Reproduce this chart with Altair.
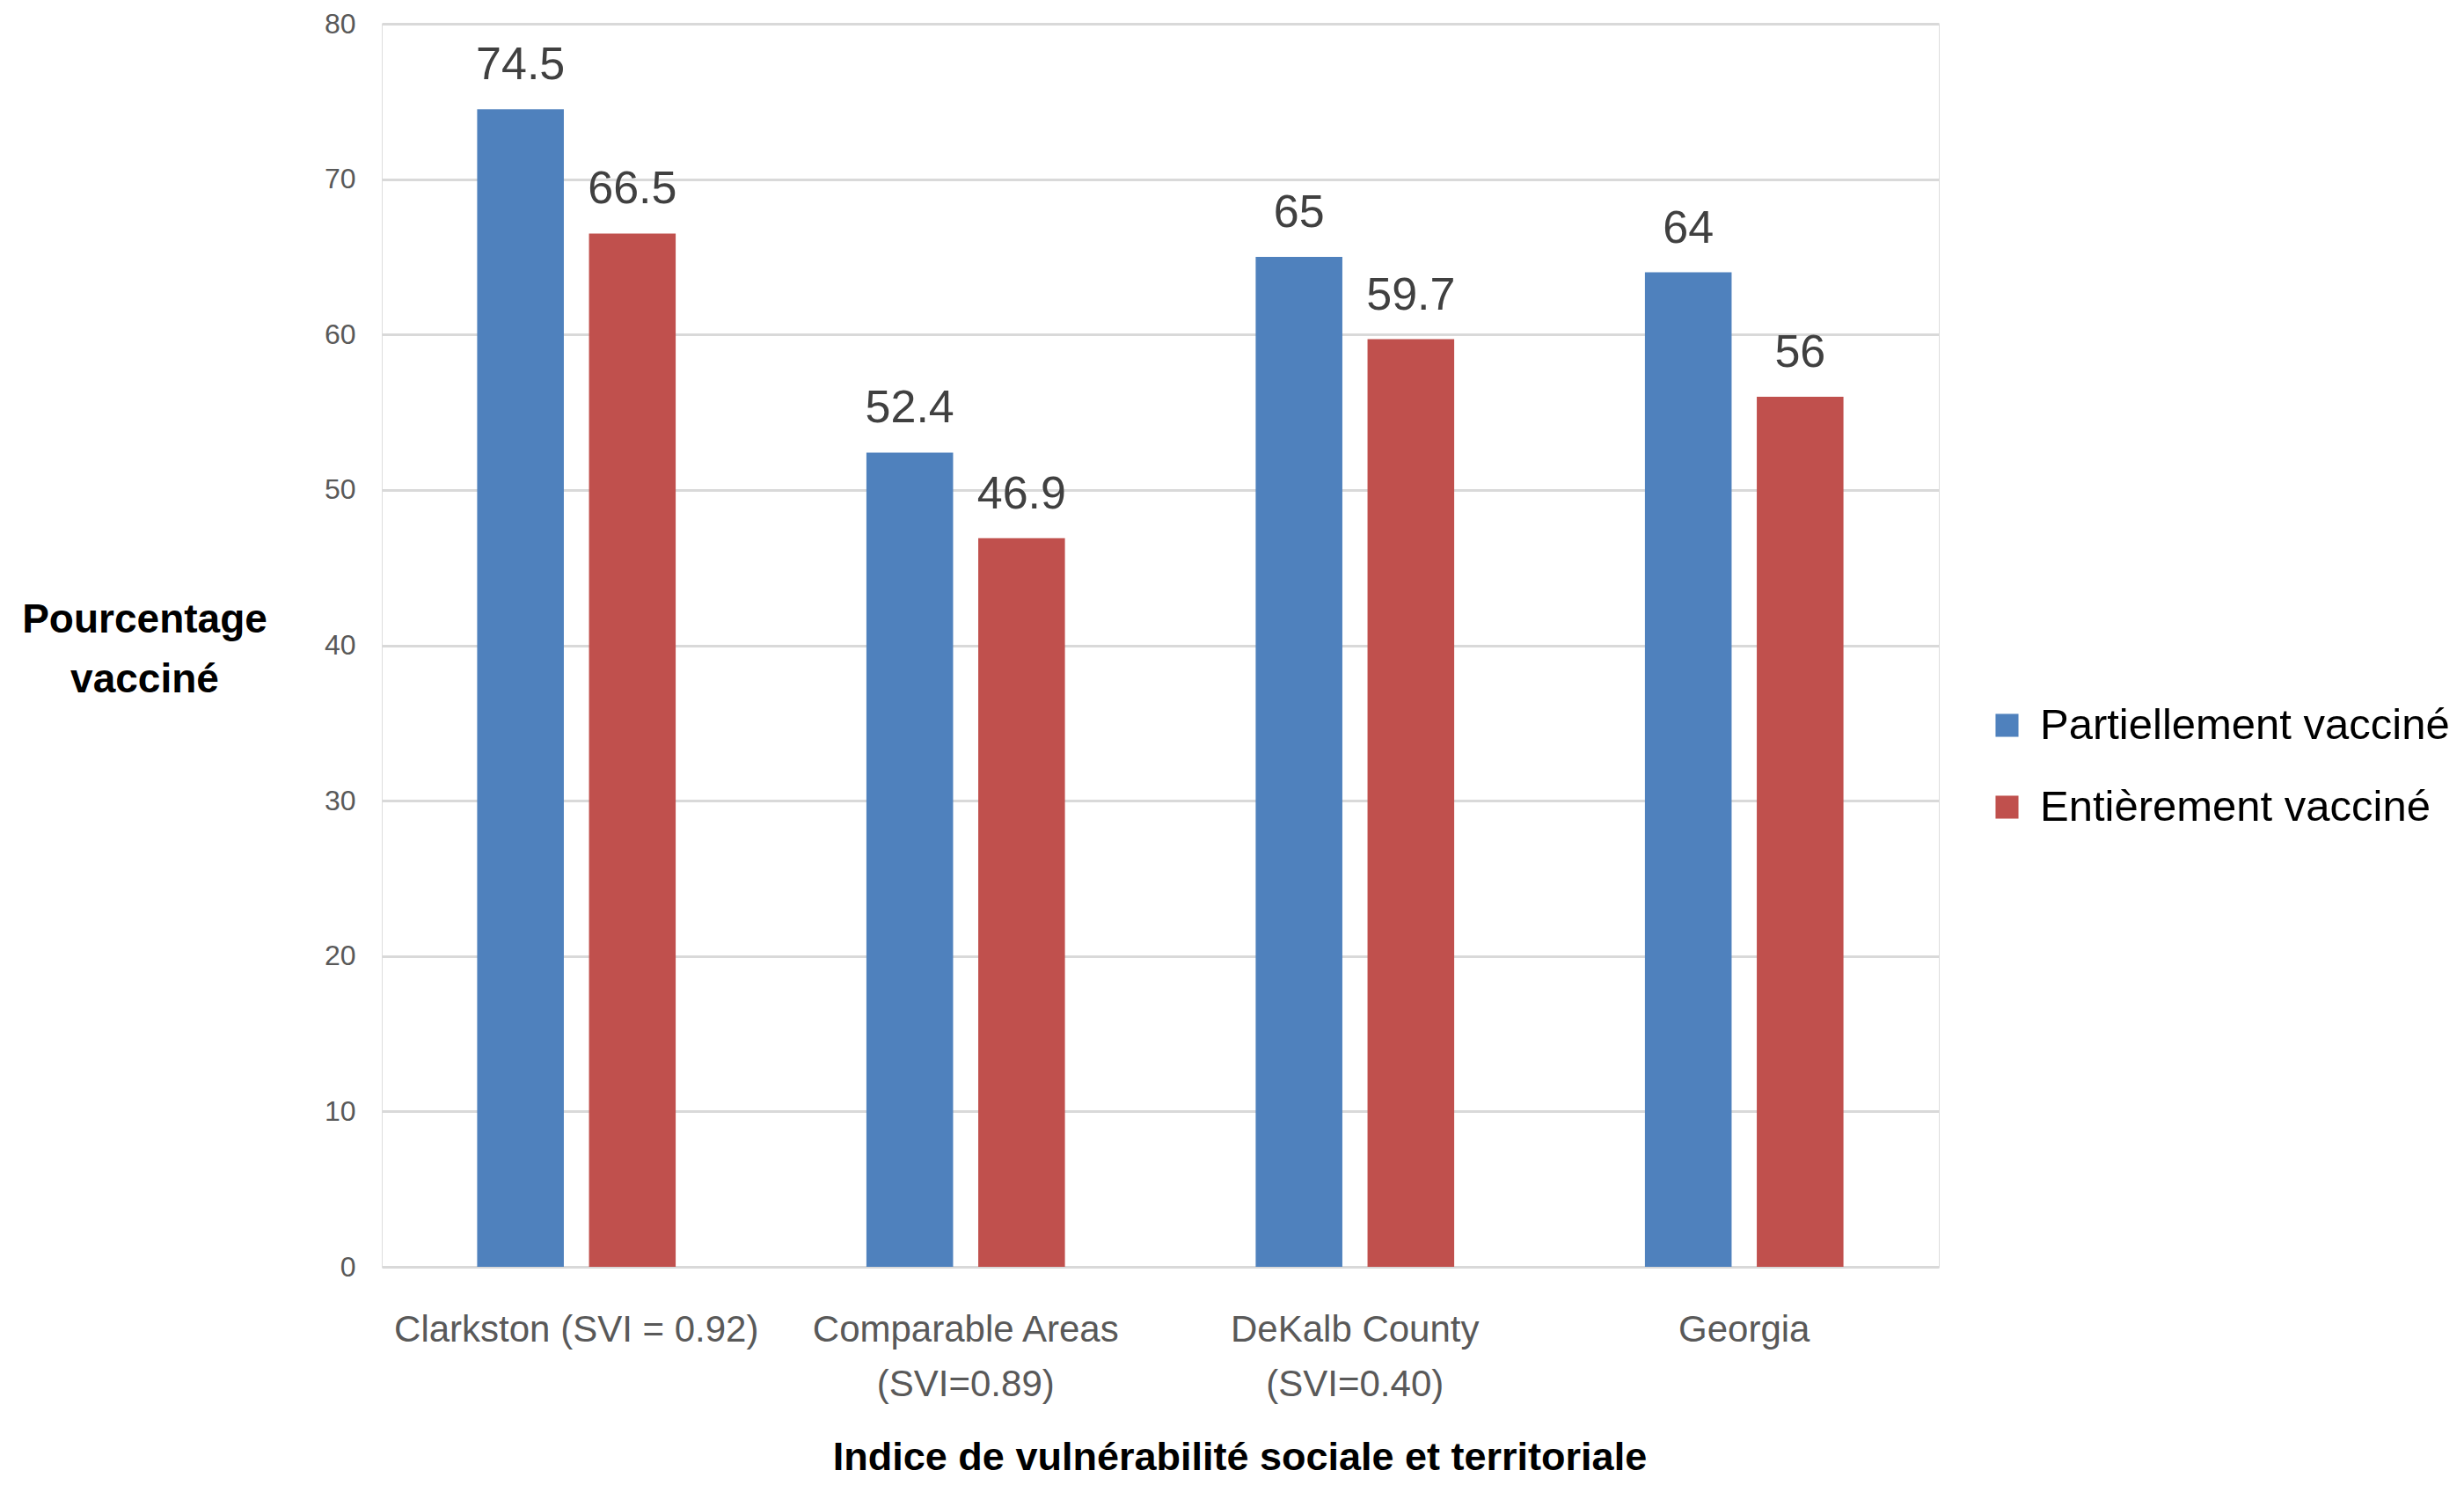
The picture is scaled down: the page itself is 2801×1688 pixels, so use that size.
import altair as alt
import pandas as pd

categories = ["Clarkston (SVI = 0.92)", "Comparable Areas\n(SVI=0.89)", "DeKalb County\n(SVI=0.40)", "Georgia"]
series = ["Partiellement vacciné", "Entièrement vacciné"]
partiel = [74.5, 52.4, 65, 64]
entier = [66.5, 46.9, 59.7, 56]
colors = ["#4F81BD", "#C0504D"]

rows = []
for c, p, e in zip(categories, partiel, entier):
    rows.append({"cat": c, "serie": series[0], "val": p, "lbl": f"{p:g}"})
    rows.append({"cat": c, "serie": series[1], "val": e, "lbl": f"{e:g}"})
df = pd.DataFrame(rows)

x = alt.X("cat:N", sort=categories,
          scale=alt.Scale(paddingInner=0.49, paddingOuter=0.245),
          axis=alt.Axis(title="Indice de vulnérabilité sociale et territoriale",
                        labelExpr="split(datum.label, '\\n')",
                        labelAngle=0, labelFont="Liberation Sans", labelFontSize=42,
                        labelColor="#595959", labelPadding=51, labelLineHeight=62,
                        labelLimit=0, labelOverlap=False,
                        domain=False, ticks=False, grid=False,
                        titleFont="Liberation Sans", titleFontSize=45, titleFontWeight="bold",
                        titleColor="#000000", titleX=975, titleY=216,
                        titleAnchor="start", titleAlign="center", titleBaseline="middle"))
xo = alt.XOffset("serie:N", sort=series,
                 scale=alt.Scale(paddingInner=0.225, paddingOuter=0))
y = alt.Y("val:Q", scale=alt.Scale(domain=[0, 80], nice=False),
          axis=alt.Axis(values=[0, 10, 20, 30, 40, 50, 60, 70, 80],
                        title=["Pourcentage", "vacciné"],
                        labelFont="Liberation Sans", labelFontSize=32, labelColor="#595959",
                        labelPadding=30, domain=False, ticks=False,
                        gridColor="#D9D9D9", gridWidth=3,
                        titleFont="Liberation Sans", titleFontSize=46, titleFontWeight="bold",
                        titleColor="#000000", titleAngle=0, titleX=-270, titleY=677,
                        titleAlign="center", titleBaseline="middle", titleLineHeight=68,
                        titleAnchor="start"))
color = alt.Color("serie:N", sort=series,
                  scale=alt.Scale(domain=series, range=colors),
                  legend=alt.Legend(title=None, orient="none", legendX=1823, legendY=773,
                                    symbolType="square", symbolSize=680, symbolStrokeWidth=0,
                                    labelFont="Liberation Sans", labelFontSize=49,
                                    labelColor="#000000", labelOffset=13, rowPadding=43,
                                    labelLimit=0))

base = alt.Chart(df)
bars = base.mark_bar().encode(x=x, xOffset=xo, y=y, color=color)
text = base.mark_text(baseline="alphabetic", dy=-34, font="Liberation Sans",
                      fontSize=52, color="#404040").encode(
    x=alt.X("cat:N", sort=categories), xOffset=alt.XOffset("serie:N", sort=series),
    y="val:Q", text="lbl:N")

chart = alt.layer(bars, text).properties(
    width=1770, height=1413,
    autosize=alt.AutoSizeParams(type="none"),
    padding={"left": 426, "top": 19, "right": 589, "bottom": 240},
).configure_view(stroke=None).configure(background="white")

chart.save("out.html", embed_options={"renderer": "svg", "actions": False})
